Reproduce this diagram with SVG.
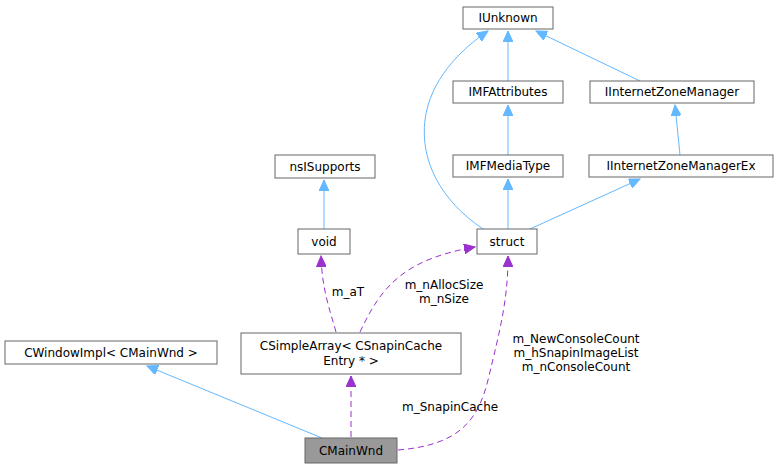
<svg xmlns="http://www.w3.org/2000/svg" width="777" height="469" viewBox="0 0 777 469">
<style>
.n rect{fill:#fff;stroke:#666;stroke-width:1}
text{font-family:"DejaVu Sans",sans-serif;font-size:12px;fill:#000;text-anchor:middle}
.i{fill:none;stroke:#63b8ff;stroke-width:1}
.u{fill:none;stroke:#9a32cd;stroke-width:1;stroke-dasharray:6,4}
</style>
<defs>
<marker id="ab" markerWidth="12" markerHeight="10" refX="11" refY="5" orient="auto" markerUnits="userSpaceOnUse"><path d="M0,0 L11,5 L0,10 z" fill="#63b8ff" stroke="#63b8ff"/></marker>
<marker id="ap" markerWidth="12" markerHeight="10" refX="11" refY="5" orient="auto" markerUnits="userSpaceOnUse"><path d="M0,0 L11,5 L0,10 z" fill="#9a32cd" stroke="#9a32cd"/></marker>
</defs>
<g id="edges">
<path class="i" d="M508,81 L508,31" marker-end="url(#ab)"/>
<path class="i" d="M640,81 L536,31" marker-end="url(#ab)"/>
<path class="i" d="M508,155 L508,105" marker-end="url(#ab)"/>
<path class="i" d="M680,155 L675,105" marker-end="url(#ab)"/>
<path class="i" d="M483,229 C440,200 420,160 425,120 C430,80 460,50 488,31" marker-end="url(#ab)"/>
<path class="i" d="M508,229 L508,179" marker-end="url(#ab)"/>
<path class="i" d="M530,229 L640,179" marker-end="url(#ab)"/>
<path class="i" d="M324,229 L324,180" marker-end="url(#ab)"/>
<path class="i" d="M322,438 L147,366" marker-end="url(#ab)"/>
<path class="u" d="M336,332 C330,310 322,290 321,256" marker-end="url(#ap)"/>
<path class="u" d="M360,332 C380,290 400,260 475,247" marker-end="url(#ap)"/>
<path class="u" d="M351,437 L351,376" marker-end="url(#ap)"/>
<path class="u" d="M398,450 C460,445 478,420 488,380 C500,330 508,300 508,256" marker-end="url(#ap)"/>
<text x="348" y="296">m_aT</text>
<text x="444" y="289">m_nAllocSize</text>
<text x="444" y="303">m_nSize</text>
<text x="402" y="411" text-anchor="start" style="text-anchor:start">m_SnapinCache</text>
<text x="576" y="343">m_NewConsoleCount</text>
<text x="576" y="357">m_hSnapinImageList</text>
<text x="576" y="371">m_nConsoleCount</text>
</g>
<g id="IUnknown" class="n"><rect x="463" y="7" width="90" height="22"/><text x="508" y="22">IUnknown</text></g>
<g id="IMFAttributes" class="n"><rect x="453" y="81" width="110" height="22"/><text x="508" y="96">IMFAttributes</text></g>
<g id="IInternetZoneManager" class="n"><rect x="590" y="81" width="164" height="22"/><text x="672" y="96">IInternetZoneManager</text></g>
<g id="IMFMediaType" class="n"><rect x="453" y="155" width="110" height="22"/><text x="508" y="170">IMFMediaType</text></g>
<g id="IInternetZoneManagerEx" class="n"><rect x="589" y="155" width="184" height="22"/><text x="681" y="170">IInternetZoneManagerEx</text></g>
<g id="nsISupports" class="n"><rect x="275" y="155" width="100" height="23"/><text x="325" y="171">nsISupports</text></g>
<g id="void" class="n"><rect x="298" y="229" width="52" height="25"/><text x="324" y="246">void</text></g>
<g id="struct" class="n"><rect x="477" y="229" width="60" height="25"/><text x="507" y="246">struct</text></g>
<g id="CSimpleArray" class="n"><rect x="241" y="333" width="220" height="41"/><text x="351" y="350">CSimpleArray&lt; CSnapinCache</text><text x="351" y="365">Entry * &gt;</text></g>
<g id="CWindowImpl" class="n"><rect x="5" y="341" width="212" height="23"/><text x="111" y="357">CWindowImpl&lt; CMainWnd &gt;</text></g>
<g id="CMainWnd" class="n"><rect x="305" y="438" width="92" height="25" style="fill:#999"/><text x="351" y="455">CMainWnd</text></g>
</svg>
